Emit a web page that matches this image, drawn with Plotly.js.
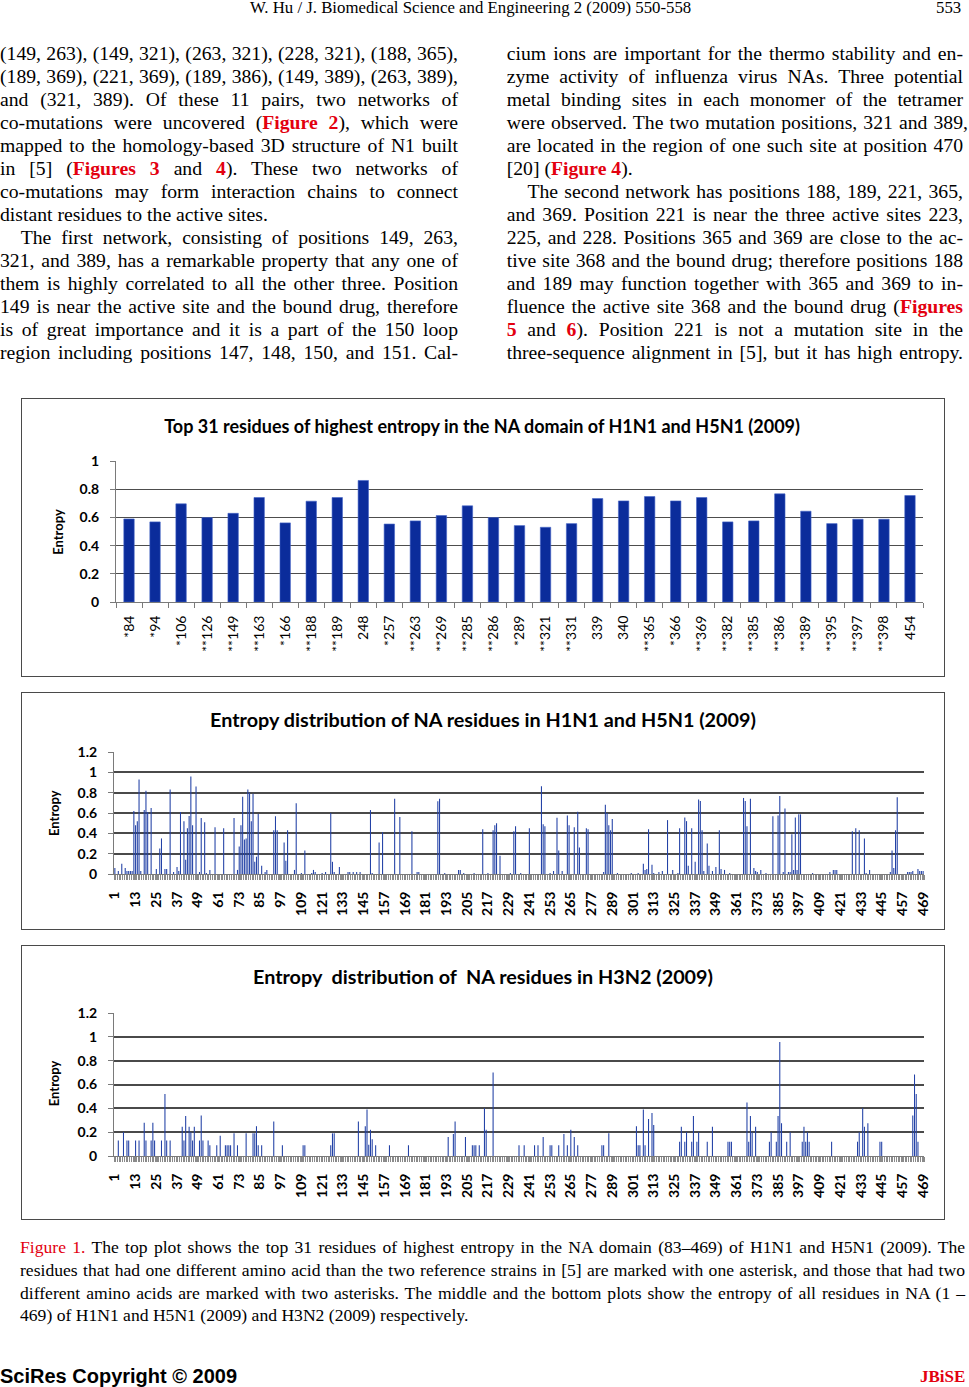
<!DOCTYPE html>
<html><head><meta charset="utf-8">
<script src="https://cdn.plot.ly/plotly-3.0.1.min.js"></script>
<style>
html,body{margin:0;padding:0;background:#fff}
body{width:969px;height:1387px;position:relative;overflow:hidden;font-family:"Liberation Serif","Times New Roman",serif;color:#000}
.ln{position:absolute;white-space:nowrap;font-size:19.7px;line-height:23px;height:23px}
.cap{position:absolute;white-space:nowrap;font-size:17.6px;line-height:23px;height:23px}
.red{color:#e3000f;font-weight:bold}
.redn{color:#e3000f}
.frame{position:absolute;left:21px;width:924px;border:1.5px solid #4a4a4a;box-sizing:border-box;pointer-events:none}
.plot{position:absolute;left:21px;width:924px}
</style></head><body>

<div class="ln" style="left:250px;top:-4px;font-size:16.8px;">W. Hu / J. Biomedical Science and Engineering 2 (2009) 550-558</div>
<div class="ln" style="left:936px;top:-4px;font-size:16.8px;">553</div>

<div id="col1"></div>
<div id="col2"></div>

<div id="chart1" class="plot" style="top:398px;height:279px"></div>
<div class="frame" style="top:398px;height:279px"></div>
<div id="chart2" class="plot" style="top:692px;height:238px"></div>
<div class="frame" style="top:692px;height:238px"></div>
<div id="chart3" class="plot" style="top:945px;height:275px"></div>
<div class="frame" style="top:945px;height:275px"></div>

<div class="cap j" data-w="945" style="left:20px;top:1236px"><span class="redn">Figure 1.</span> The top plot shows the top 31 residues of highest entropy in the NA domain (83–469) of H1N1 and H5N1 (2009). The</div>
<div class="cap j" data-w="945" style="left:20px;top:1259px">residues that had one different amino acid than the two reference strains in [5] are marked with one asterisk, and those that had two</div>
<div class="cap j" data-w="945" style="left:20px;top:1282px">different amino acids are marked with two asterisks. The middle and the bottom plots show the entropy of all residues in NA (1 –</div>
<div class="cap" style="left:20px;top:1304px">469) of H1N1 and H5N1 (2009) and H3N2 (2009) respectively.</div>

<div style="position:absolute;left:0;top:1364px;font-family:'Liberation Sans',Arial,sans-serif;font-weight:bold;font-size:20px;line-height:24px;white-space:nowrap">SciRes Copyright © 2009</div>
<div style="position:absolute;left:920px;top:1365px;font-family:'Liberation Serif',serif;font-weight:bold;font-size:17px;line-height:24px;color:#e3000f;white-space:nowrap">JBiSE</div>

<script>
// ---------------- text lines ----------------
const leftLines = [
  ['j','(149, 263), (149, 321), (263, 321), (228, 321), (188, 365),'],
  ['j','(189, 369), (221, 369), (189, 386), (149, 389), (263, 389),'],
  ['j','and (321, 389). Of these 11 pairs, two networks of'],
  ['j','co-mutations were uncovered (<span class="red">Figure 2</span>), which were'],
  ['j','mapped to the homology-based 3D structure of N1 built'],
  ['j','in [5] (<span class="red">Figures 3</span> and <span class="red">4</span>). These two networks of'],
  ['j','co-mutations may form interaction chains to connect'],
  ['n','distant residues to the active sites.'],
  ['i','The first network, consisting of positions 149, 263,'],
  ['j','321, and 389, has a remarkable property that any one of'],
  ['j','them is highly correlated to all the other three. Position'],
  ['j','149 is near the active site and the bound drug, therefore'],
  ['j','is of great importance and it is a part of the 150 loop'],
  ['j','region including positions 147, 148, 150, and 151. Cal-']
];
const rightLines = [
  ['j','cium ions are important for the thermo stability and en-'],
  ['j','zyme activity of influenza virus NAs. Three potential'],
  ['j','metal binding sites in each monomer of the tetramer'],
  ['w','were observed. The two mutation positions, 321 and 389,'],
  ['j','are located in the region of one such site at position 470'],
  ['n','[20] (<span class="red">Figure 4</span>).'],
  ['i','The second network has positions 188, 189, 221, 365,'],
  ['j','and 369. Position 221 is near the three active sites 223,'],
  ['j','225, and 228. Positions 365 and 369 are close to the ac-'],
  ['j','tive site 368 and the bound drug; therefore positions 188'],
  ['j','and 189 may function together with 365 and 369 to in-'],
  ['j','fluence the active site 368 and the bound drug (<span class="red">Figures</span>'],
  ['j','<span class="red">5</span> and <span class="red">6</span>). Position 221 is not a mutation site in the'],
  ['j','three-sequence alignment in [5], but it has high entropy.']
];
function placeLines(lines, x0, width, holder){
  const h = document.getElementById(holder);
  lines.forEach((l,i)=>{
    const d = document.createElement('div');
    d.className = 'ln';
    let left = x0, w = width;
    if(l[0]==='i'){ left = x0 + 20.7; w = width - 20.7; }
    if(l[0]==='w'){ w = width + 5; }
    d.style.left = left+'px';
    d.style.top = (41.5 + 23*i)+'px';
    d.innerHTML = l[1];
    if(l[0]!=='n'){ d.classList.add('j'); d.dataset.w = w; }
    h.appendChild(d);
  });
}
placeLines(leftLines, 0, 458, 'col1');
placeLines(rightLines, 506.7, 456.3, 'col2');
document.querySelectorAll('.j').forEach(el=>{
  const target = +el.dataset.w;
  const natural = el.getBoundingClientRect().width;
  const spaces = (el.textContent.match(/ /g)||[]).length;
  if(natural < target && spaces){ el.style.wordSpacing = ((target-natural)/spaces)+'px'; }
  else if(natural > target){ el.style.transformOrigin='0 0'; el.style.transform='scaleX('+(target/natural)+')'; }
});
</script>

<script>
// ---------------- DATA ----------------
// Top plot: top 31 residues of highest entropy (H1N1 & H5N1, 2009)
const top31Labels = ['*84','*94','*106','**126','**149','**163','*166','**188','**189','248','*257','**263','**269','**285','**286','*289','**321','**331','339','340','**365','*366','**369','**382','**385','**386','**389','**395','**397','**398','454'];
const top31Entropy = [0.589,0.568,0.696,0.599,0.629,0.741,0.561,0.715,0.741,0.862,0.553,0.575,0.613,0.682,0.599,0.542,0.530,0.556,0.734,0.717,0.748,0.717,0.741,0.568,0.575,0.767,0.644,0.556,0.587,0.587,0.755];

// Middle plot: entropy of NA residues, H1N1 & H5N1 (2009) (residues with visible bars)
const h1h5Residues = [1,3,5,7,8,9,10,11,12,13,14,15,16,18,19,20,22,25,27,28,30,31,33,35,37,38,39,41,42,43,44,45,46,48,50,51,53,54,56,59,64,70,72,73,74,75,76,77,78,79,80,81,82,83,84,86,88,89,93,94,95,99,100,101,105,106,109,111,115,116,117,121,123,126,127,128,131,
  136,137,139,141,143,149,150,154,156,163,166,173,176,177,188,189,192,200,201,203,209,214,217,220,221,222,224,230,232,233,236,241,248,249,250,253,255,257,258,260,263,264,267,269,270,274,275,284,285,286,287,288,289,292,300,304,
  307,308,309,310,312,313,316,318,321,324,327,328,331,332,333,335,337,339,340,341,342,344,345,347,349,351,352,354,357,365,366,367,369,371,372,373,375,378,382,385,386,388,389,391,392,393,394,395,396,397,398,405,415,417,418,419,428,430,432,435,436,438,450,451,452,453,454,460,461,462,463,466,467,468,469];
const h1h5Entropy = [0.06,0.03,0.10,0.06,0.03,0.03,0.03,0.03,0.62,0.48,0.52,0.93,0.03,0.63,0.82,0.61,0.65,0.05,0.25,0.35,0.05,0.05,0.83,0.02,0.07,0.03,0.61,0.52,0.14,0.45,0.57,0.96,0.48,0.86,0.02,0.55,0.51,0.01,0.04,0.46,0.45,0.55,0.04,0.27,0.48,0.76,0.34,0.35,0.83,0.80,0.52,0.79,0.12,0.17,0.589,0.08,0.02,0.04,0.43,0.568,0.43,0.31,0.13,0.43,0.04,0.696,0.01,0.23,0.01,0.04,0.02,0.01,0.02,0.599,0.12,0.02,0.07,
  0.02,0.02,0.02,0.02,0.02,0.629,0.01,0.31,0.41,0.741,0.561,0.42,0.02,0.02,0.715,0.741,0.01,0.04,0.04,0.01,0.01,0.44,0.01,0.43,0.48,0.50,0.18,0.01,0.42,0.47,0.01,0.45,0.862,0.49,0.47,0.01,0.03,0.553,0.23,0.03,0.575,0.48,0.46,0.613,0.26,0.45,0.44,0.02,0.682,0.599,0.48,0.43,0.542,0.01,0.01,0.01,
  0.10,0.04,0.05,0.44,0.09,0.01,0.02,0.03,0.530,0.04,0.01,0.45,0.556,0.52,0.08,0.45,0.12,0.734,0.717,0.43,0.03,0.30,0.08,0.03,0.07,0.43,0.05,0.04,0.01,0.748,0.717,0.47,0.741,0.06,0.03,0.02,0.04,0.01,0.568,0.575,0.767,0.02,0.644,0.02,0.02,0.39,0.04,0.556,0.04,0.587,0.587,0.01,0.02,0.04,0.04,0.04,0.42,0.45,0.43,0.35,0.01,0.04,0.02,0.23,0.06,0.43,0.755,0.02,0.02,0.02,0.03,0.05,0.03,0.03,0.03];

// Bottom plot: entropy of NA residues, H3N2 (2009)
const h3n2Residues = [3,6,8,9,13,15,18,19,22,23,24,28,30,31,33,40,41,42,44,45,46,47,50,51,52,55,56,60,62,65,66,67,68,70,72,77,81,82,83,84,86,93,98,110,111,126,127,128,
  142,146,147,148,149,150,152,160,171,194,197,198,204,208,209,210,212,215,216,220,235,238,244,246,249,253,254,258,261,263,265,267,269,283,284,287,
  303,304,305,307,308,310,312,313,328,329,331,332,335,336,338,339,344,347,356,357,358,367,368,369,370,372,380,381,384,385,386,387,390,392,399,400,401,402,403,416,431,432,434,435,437,444,445,463,464,465,466];
const h3n2Entropy = [0.13,0.20,0.13,0.13,0.13,0.13,0.28,0.13,0.13,0.28,0.13,0.13,0.52,0.13,0.13,0.245,0.13,0.335,0.245,0.20,0.13,0.245,0.13,0.34,0.13,0.13,0.09,0.09,0.17,0.09,0.09,0.09,0.09,0.19,0.09,0.19,0.19,0.19,0.25,0.09,0.09,0.29,0.09,0.09,0.09,0.09,0.19,0.19,
  0.29,0.25,0.39,0.095,0.22,0.14,0.09,0.09,0.09,0.16,0.185,0.29,0.16,0.09,0.09,0.09,0.09,0.40,0.22,0.70,0.09,0.09,0.09,0.09,0.16,0.09,0.09,0.09,0.185,0.09,0.22,0.16,0.09,0.09,0.09,0.19,
  0.25,0.09,0.09,0.39,0.09,0.31,0.36,0.26,0.12,0.245,0.12,0.20,0.12,0.335,0.12,0.20,0.12,0.245,0.12,0.12,0.12,0.45,0.12,0.335,0.20,0.245,0.12,0.20,0.12,0.335,0.956,0.275,0.12,0.20,0.12,0.245,0.12,0.20,0.12,0.12,0.12,0.20,0.40,0.245,0.275,0.12,0.12,0.34,0.684,0.52,0.12];

const distTickLabels = ['1','13','25','37','49','61','73','85','97','109','121','133','145','157','169','181','193','205','217','229','241','253','265','277','289','301','313','325','337','349','361','373','385','397','409','421','433','445','457','469'];

const chartTitles = [
  'Top 31 residues of highest entropy in the NA domain of H1N1 and H5N1 (2009)',
  'Entropy distribution of NA residues in H1N1 and H5N1 (2009)',
  'Entropy\u00a0 distribution of\u00a0 NA residues in H3N2 (2009)'
];
const yAxisLabel = 'Entropy';

// ---------------- PLOTS ----------------
const FF = 'Lato, "Open Sans", sans-serif';
const cfg = {staticPlot:true, displayModeBar:false};

function yaxis(maxv, gridColor, gridW){
  return {range:[0,maxv+0.0001], dtick:0.2, tick0:0, showgrid:true, gridcolor:gridColor, gridwidth:gridW,
    showline:true, linecolor:'#7a7a7a', linewidth:1, ticks:'outside', ticklen:5, tickcolor:'#7a7a7a',
    zeroline:false, ticklabelstandoff:8, tickfont:{family:FF, size:14, color:'#000', weight:'bold'}, fixedrange:true};
}
function entropyAnn(x,y){
  return {text:'<b>'+yAxisLabel+'</b>', xref:'paper', yref:'paper', x:x, y:y, textangle:-90, showarrow:false,
    xanchor:'center', yanchor:'middle', font:{family:FF, size:13, color:'#000'}};
}

Plotly.newPlot('chart1', [{
  type:'bar', x:top31Labels, y:top31Entropy,
  marker:{color:'#0B2C9B', line:{color:'#4465c8', width:0.6}}
}], {
  width:924, height:279, margin:{l:95, r:22, t:63, b:75},
  paper_bgcolor:'rgba(0,0,0,0)', plot_bgcolor:'#fff', bargap:0.6, showlegend:false,
  title:{text:'<b>'+chartTitles[0]+'</b>', font:{family:FF, size:18, color:'#000'}, xref:'container', x:0.499, xanchor:'center', yref:'container', y:0.897, yanchor:'middle'},
  xaxis:{type:'category', tickangle:-90, ticks:'outside', tickson:'boundaries', ticklen:5, tickcolor:'#7a7a7a',
    showline:true, linecolor:'#7a7a7a', linewidth:1, showgrid:false, ticklabelstandoff:7,
    tickfont:{family:FF, size:14, color:'#000'}},
  yaxis:yaxis(1.0, '#4d4d4d', 1),
  annotations:[entropyAnn(-0.0727, 0.5)]
}, cfg);

function distPlot(id, xs, ys, title, h, mt, mb, titleY, annY){
  Plotly.newPlot(id, [{
    type:'bar', x:xs, y:ys, width:0.62,
    marker:{color:'#2342a6', line:{width:0}}
  }], {
    width:924, height:h, margin:{l:93, r:21, t:mt, b:mb},
    paper_bgcolor:'rgba(0,0,0,0)', plot_bgcolor:'#fff', showlegend:false,
    title:{text:'<b>'+title+'</b>', font:{family:FF, size:19.8, color:'#000'}, xref:'container', x:0.5, xanchor:'center', yref:'container', y:titleY, yanchor:'middle'},
    xaxis:{range:[0.5,469.5], tickmode:'array', tickvals:distTickLabels.map(Number), ticktext:distTickLabels,
      tickangle:-90, ticks:'outside', ticklen:5, tickcolor:'#8a8a8a', showline:true, linecolor:'#7a7a7a', linewidth:1,
      showgrid:false, zeroline:false, ticklabelstandoff:6,
      minor:{tickmode:'linear', tick0:0.5, dtick:1, ticks:'outside', ticklen:5, tickcolor:'#8a8a8a', tickwidth:1, showgrid:false},
      tickfont:{family:FF, size:14, color:'#000', weight:'bold'}},
    yaxis:yaxis(1.2, '#4a4a4a', 2),
    annotations:[entropyAnn(-0.0732, annY)]
  }, cfg);
}
distPlot('chart2', h1h5Residues, h1h5Entropy, chartTitles[1], 238, 60, 56, 0.882, 0.4975);
distPlot('chart3', h3n2Residues, h3n2Entropy, chartTitles[2], 275, 68, 64, 0.885, 0.507);
</script>
</body></html>
